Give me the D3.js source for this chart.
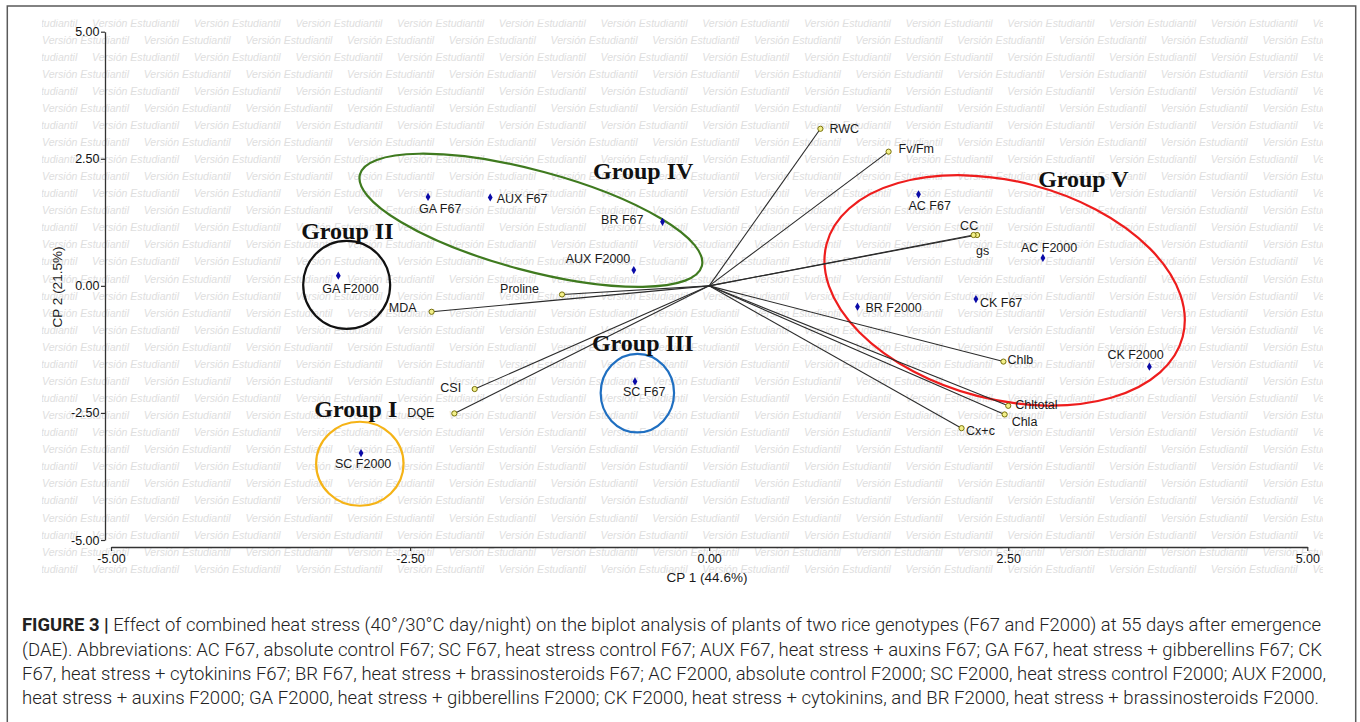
<!DOCTYPE html>
<html>
<head>
<meta charset="utf-8">
<script src="https://cdn.jsdelivr.net/npm/d3@7"></script>
<style>
  html, body { margin: 0; padding: 0; background: #fff; }
  svg { display: block; }
</style>
</head>
<body>
<svg id="chart" width="1360" height="722"></svg>
<script>
// ---------------- DATA ----------------
const obsNames = ["GA F67", "AUX F67", "BR F67", "AUX F2000", "GA F2000", "SC F67",
                  "SC F2000", "AC F67", "AC F2000", "BR F2000", "CK F67", "CK F2000"];
const obsCP1 = [-2.35, -1.83, -0.39, -0.63, -3.10, -0.62, -2.91, 1.75, 2.79, 1.24, 2.23, 3.68];
const obsCP2 = [1.75, 1.74, 1.26, 0.31, 0.20, -1.88, -3.29, 1.80, 0.55, -0.41, -0.26, -1.59];

const varNames = ["RWC", "Fv/Fm", "CC", "gs", "Chlb", "Chltotal", "Chla", "Cx+c",
                  "Proline", "MDA", "CSI", "DQE"];
const varCP1 = [0.93, 1.50, 2.24, 2.21, 2.46, 2.50, 2.47, 2.11, -1.23, -2.32, -1.96, -2.13];
const varCP2 = [3.09, 2.64, 1.00, 1.00, -1.49, -2.36, -2.53, -2.80, -0.17, -0.51, -2.03, -2.51];

const groupNames = ["Group I", "Group II", "Group III", "Group IV", "Group V"];
const groupCenterCP1 = [-2.92, -3.03, -0.60, -1.49, 2.47];
const groupCenterCP2 = [-3.50, 0.02, -2.11, 1.29, -0.09];
const groupLabelCP1 = [-3.30, -3.41, -0.98, -0.97, 2.75];
const groupLabelCP2 = [-2.59, 0.92, -1.29, 2.10, 1.95];

const xTickValues = [-5, -2.5, 0, 2.5, 5];
const xTickLabels = ["-5.00", "-2.50", "0.00", "2.50", "5.00"];
const yTickValues = [-5, -2.5, 0, 2.5, 5];
const yTickLabels = ["-5.00", "-2.50", "0.00", "2.50", "5.00"];

const xTitle = "CP 1 (44.6%)";
const yTitle = "CP 2 (21.5%)";
const watermarkText = "Versión Estudiantil";

const captionLines = [
  ["FIGURE 3 | ", "Effect of combined heat stress (40°/30°C day/night) on the biplot analysis of plants of two rice genotypes (F67 and F2000) at 55 days after emergence"],
  ["", "(DAE). Abbreviations: AC F67, absolute control F67; SC F67, heat stress control F67; AUX F67, heat stress + auxins F67; GA F67, heat stress + gibberellins F67; CK"],
  ["", "F67, heat stress + cytokinins F67; BR F67, heat stress + brassinosteroids F67; AC F2000, absolute control F2000; SC F2000, heat stress control F2000; AUX F2000,"],
  ["", "heat stress + auxins F2000; GA F2000, heat stress + gibberellins F2000; CK F2000, heat stress + cytokinins, and BR F2000, heat stress + brassinosteroids F2000."]
];

// ---------------- LAYOUT / STYLE ----------------
// label offsets in px: [dx, dy, anchor]
const obsLabelPos = {
  "GA F67": [-9, 16, "start"], "AUX F67": [6.5, 6, "start"], "BR F67": [-19, 2, "end"],
  "AUX F2000": [-3.5, -7, "end"], "GA F2000": [-16, 17, "start"], "SC F67": [-12, 15, "start"],
  "SC F2000": [-26, 15, "start"], "AC F67": [-10, 16, "start"], "AC F2000": [-22, -6, "start"],
  "BR F2000": [8, 5, "start"], "CK F67": [4, 8, "start"], "CK F2000": [-42, -8, "start"]
};
const varLabelPos = {
  "RWC": [9, 4, "start"], "Fv/Fm": [10, 1, "start"], "CC": [-17, -5, "start"], "gs": [2.5, 20, "start"],
  "Chlb": [4, 2, "start"], "Chltotal": [7, 3, "start"], "Chla": [7, 12, "start"], "Cx+c": [4.5, 7, "start"],
  "Proline": [-23, -1, "end"], "MDA": [-15, 0, "end"], "CSI": [-13.5, 3, "end"], "DQE": [-20, 4, "end"]
};
// ellipse px radii, rotation (deg), colour
const groupShape = {
  "Group I":   {rx: 43.7, ry: 42,  rot: 0,    color: "#f5b316"},
  "Group II":  {rx: 43.5, ry: 44,  rot: 0,    color: "#111111"},
  "Group III": {rx: 36.7, ry: 39.3, rot: 0,   color: "#1f6fc1"},
  "Group IV":  {rx: 177,  ry: 50,  rot: 15,   color: "#3f7a1f"},
  "Group V":   {rx: 184,  ry: 109, rot: 14.6, color: "#ee1d1d"}
};

const svg = d3.select("#chart");
const x = d3.scaleLinear().domain([-5, 5]).range([111, 1307.3]);
const y = d3.scaleLinear().domain([-5, 5]).range([540, 31.7]);

// frame
svg.append("rect").attr("x", 7.3).attr("y", 6).attr("width", 1348.4).attr("height", 740)
  .attr("fill", "#fff").attr("stroke", "#5a5a5a").attr("stroke-width", 1.5);

// watermark
svg.append("clipPath").attr("id", "wm").append("rect")
  .attr("x", 42).attr("y", 19.5).attr("width", 1281).attr("height", 558);
const wm = svg.append("g").attr("clip-path", "url(#wm)")
  .style("font-family", "'Liberation Sans', Arial, sans-serif")
  .style("font-style", "italic").style("font-size", "10.5px").attr("fill", "#dedede");
for (let r = 0; r < 34; r++) {
  const yy = 22.7 + r * 17.07 + 3.8;
  const x0 = (r % 2 === 0) ? -9.7 : 42;
  for (let k = 0; k < 14; k++) {
    wm.append("text").attr("x", x0 + k * 101.7).attr("y", yy)
      .attr("textLength", 87).attr("lengthAdjust", "spacingAndGlyphs").text(watermarkText);
  }
}

// axes
const axisFont = "'Liberation Sans', Arial, sans-serif";
const gx = svg.append("g").attr("transform", "translate(0,547)")
  .call(d3.axisBottom(x).tickValues(xTickValues).tickFormat((d, i) => xTickLabels[i])
    .tickSize(4).tickSizeOuter(0).tickPadding(3));
const gy = svg.append("g").attr("transform", "translate(105,0)")
  .call(d3.axisLeft(y).tickValues(yTickValues).tickFormat((d, i) => yTickLabels[i])
    .tickSize(4).tickSizeOuter(0).tickPadding(1.5));
[gx, gy].forEach(g => {
  g.select(".domain").attr("stroke", "#333").attr("stroke-width", 1.3);
  g.selectAll(".tick line").attr("stroke", "#333").attr("stroke-width", 1.2);
  g.selectAll(".tick text").attr("fill", "#111").style("font-family", axisFont).style("font-size", "12.5px");
});

svg.append("text").attr("x", 707).attr("y", 582).attr("text-anchor", "middle")
  .style("font-family", axisFont).style("font-size", "13.5px").attr("fill", "#1a1a1a").text(xTitle);
svg.append("text").attr("transform", "translate(62,287) rotate(-90)").attr("text-anchor", "middle")
  .style("font-family", axisFont).style("font-size", "13.5px").attr("fill", "#1a1a1a").text(yTitle);

// ellipses
const ge = svg.append("g").attr("fill", "none").attr("stroke-width", 2.2);
groupNames.forEach((g, i) => {
  const s = groupShape[g];
  ge.append("ellipse")
    .attr("transform", `translate(${x(groupCenterCP1[i])},${y(groupCenterCP2[i])}) rotate(${s.rot})`)
    .attr("rx", s.rx).attr("ry", s.ry).attr("stroke", s.color);
});

// vectors
const gv = svg.append("g");
varNames.forEach((v, i) => {
  gv.append("line").attr("x1", x(0)).attr("y1", y(0)).attr("x2", x(varCP1[i])).attr("y2", y(varCP2[i]))
    .attr("stroke", "#2b2b2b").attr("stroke-width", 1.1);
});
varNames.forEach((v, i) => {
  gv.append("circle").attr("cx", x(varCP1[i])).attr("cy", y(varCP2[i])).attr("r", 2.6)
    .attr("fill", "#f3f08a").attr("stroke", "#77700a").attr("stroke-width", 1);
  const p = varLabelPos[v];
  gv.append("text").attr("x", x(varCP1[i]) + p[0]).attr("y", y(varCP2[i]) + p[1])
    .attr("text-anchor", p[2]).style("font-family", axisFont).style("font-size", "12.5px")
    .attr("fill", "#1a1a1a").text(v);
});

// observations
const go = svg.append("g");
const diamond = d3.symbol().type(d3.symbolDiamond).size(20);
obsNames.forEach((o, i) => {
  go.append("path").attr("d", diamond)
    .attr("transform", `translate(${x(obsCP1[i])},${y(obsCP2[i])})`).attr("fill", "#0a0aa8");
  const p = obsLabelPos[o];
  go.append("text").attr("x", x(obsCP1[i]) + p[0]).attr("y", y(obsCP2[i]) + p[1])
    .attr("text-anchor", p[2]).style("font-family", axisFont).style("font-size", "12.5px")
    .attr("fill", "#1a1a1a").text(o);
});

// group labels
groupNames.forEach((g, i) => {
  svg.append("text").attr("x", x(groupLabelCP1[i])).attr("y", y(groupLabelCP2[i]))
    .style("font-family", "'Liberation Serif', 'Times New Roman', serif").style("font-weight", "bold")
    .style("font-size", "24px").attr("fill", "#111").text(g);
});

// caption
const capBase = [631, 656, 680, 704];
const capEnd = [1321, 1322, 1326, 1319];
const capX = 22;
captionLines.forEach((ln, i) => {
  const t = svg.append("text").attr("x", capX).attr("y", capBase[i])
    .attr("textLength", capEnd[i] - capX).attr("lengthAdjust", "spacingAndGlyphs")
    .style("font-family", "Roboto, 'Liberation Sans', sans-serif").style("font-size", "18px")
    .style("font-weight", "300").attr("fill", "#222");
  if (ln[0]) t.append("tspan").style("font-weight", "bold").text(ln[0]);
  t.append("tspan").text(ln[1]);
});
</script>
</body>
</html>
